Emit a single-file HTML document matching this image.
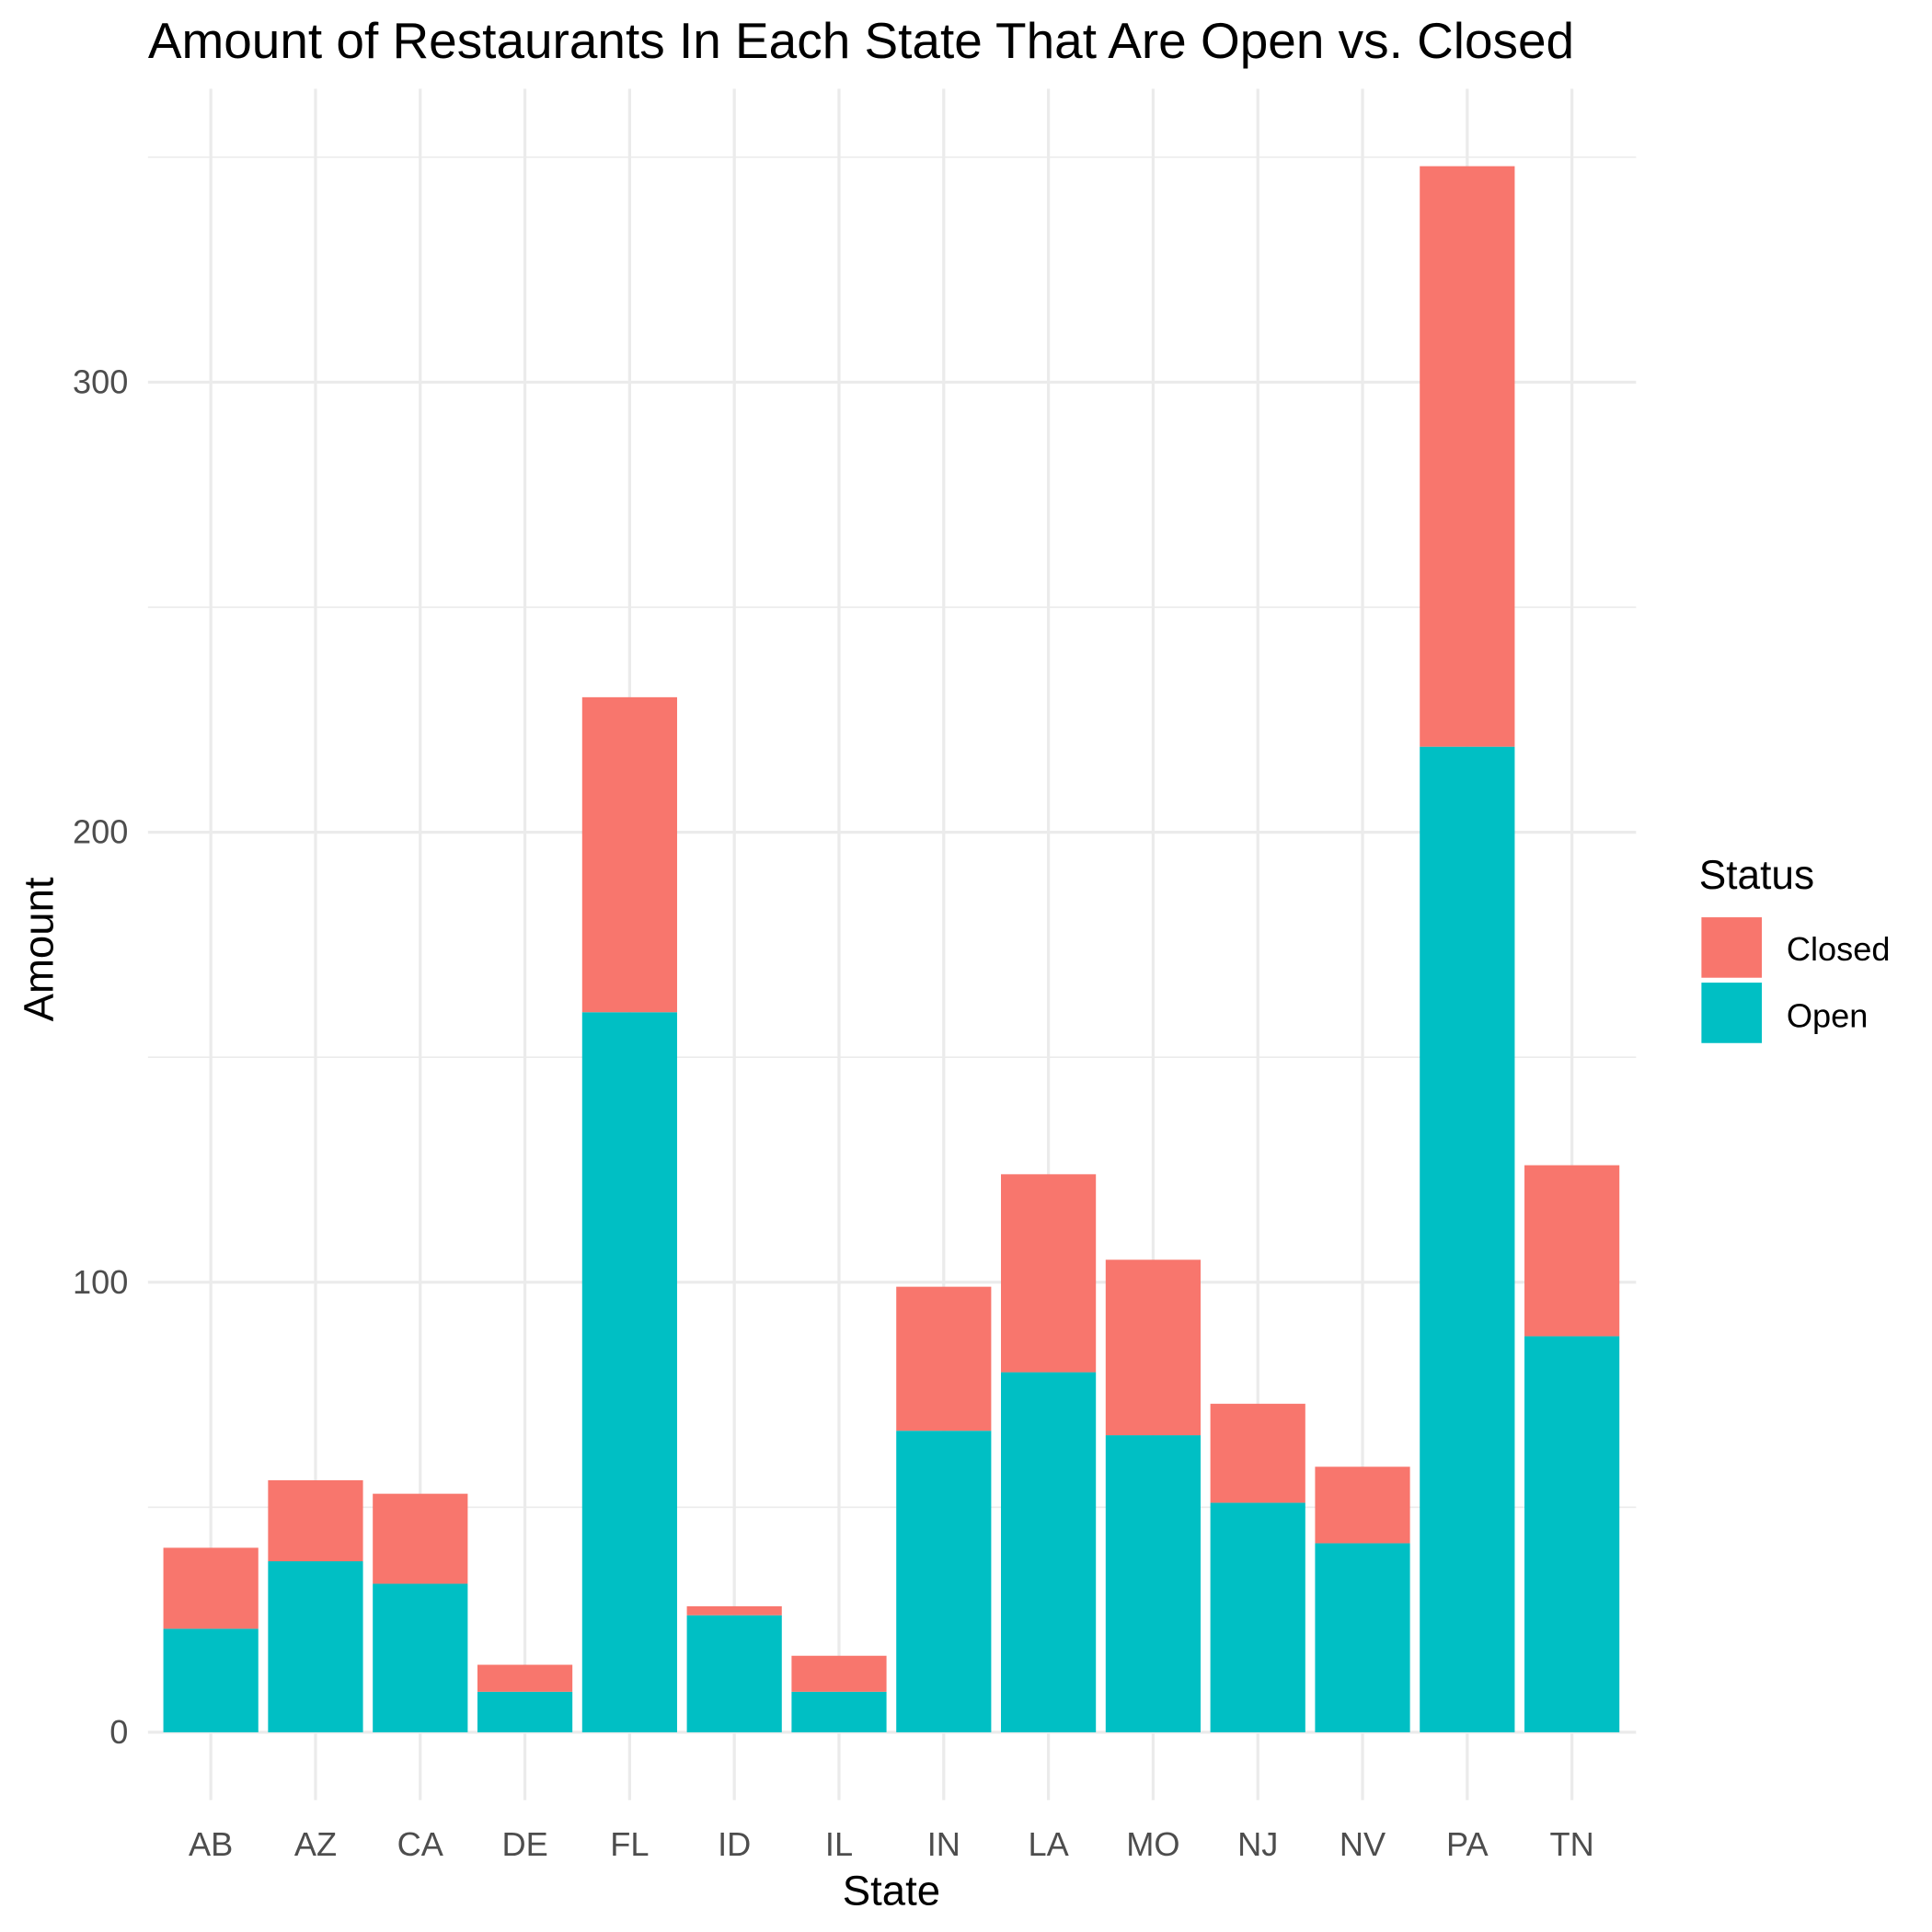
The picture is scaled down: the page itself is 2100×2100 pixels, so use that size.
<!DOCTYPE html>
<html><head><meta charset="utf-8"><style>
html,body{margin:0;padding:0;background:#fff}
svg{display:block;font-family:"Liberation Sans",Arial,sans-serif}
</style></head><body>
<svg id="chart" width="2100" height="2100" viewBox="0 0 1567 1567" xmlns="http://www.w3.org/2000/svg">
<text x="120" y="47" font-size="41" fill="#000">Amount of Restaurants In Each State That Are Open vs. Closed</text>
<g id="grid"></g>
<g id="bars"></g>
<g id="ticks"></g>
<text x="723" y="1545" font-size="34" text-anchor="middle" fill="#000">State</text>
<text transform="translate(43,770) rotate(-90)" font-size="34" text-anchor="middle" fill="#000">Amount</text>
<g>
<text x="1378" y="721" font-size="33" fill="#000">Status</text>
<rect x="1380" y="744" width="49" height="49" fill="#F8766D"/>
<text x="1449" y="779" font-size="27" fill="#000">Closed</text>
<rect x="1380" y="797" width="49" height="49" fill="#00BFC4"/>
<text x="1449" y="833" font-size="27" fill="#000">Open</text>
</g>
</svg>
<script>
const states = ["AB","AZ","CA","DE","FL","ID","IL","IN","LA","MO","NJ","NV","PA","TN"];
const openVals = [23,38,33,9,160,26,9,67,80,66,51,42,219,88];
const closedVals = [18,18,20,6,70,2,8,32,44,39,22,17,129,38];
const yTicks = [0,100,200,300];
const yMinor = [50,150,250,350];

const NS="http://www.w3.org/2000/svg";
const x0=171, step=84.92, bw=77;
const xPos=i=>x0+i*step;
const yPos=v=>1405-v*3.65;
const panelL=120, panelR=1327, panelT=72, panelB=1460;
function mk(tag,attrs,parent){const e=document.createElementNS(NS,tag);for(const k in attrs)e.setAttribute(k,attrs[k]);parent.appendChild(e);return e;}
const grid=document.getElementById('grid'), bars=document.getElementById('bars'), ticks=document.getElementById('ticks');
yMinor.forEach(v=>{const l=mk('line',{x1:panelL,x2:panelR,y1:yPos(v),y2:yPos(v),stroke:'#ebebeb','stroke-width':1.2},grid);

});
yTicks.forEach(v=>{const l=mk('line',{x1:panelL,x2:panelR,y1:yPos(v),y2:yPos(v),stroke:'#ebebeb','stroke-width':2.4},grid);


const t=mk('text',{x:104,y:yPos(v)+9,'font-size':27,'text-anchor':'end',fill:'#4d4d4d'},ticks);t.textContent=v;

});
states.forEach((s,i)=>{const x=xPos(i);
const l=mk('line',{x1:x,x2:x,y1:panelT,y2:panelB,stroke:'#ebebeb','stroke-width':2.4},grid);


const o=openVals[i], c=closedVals[i];
const ro=mk('rect',{x:x-bw/2,y:yPos(o),width:bw,height:yPos(0)-yPos(o),fill:'#00BFC4'},bars);


const rc=mk('rect',{x:x-bw/2,y:yPos(o+c),width:bw,height:yPos(o)-yPos(o+c),fill:'#F8766D'},bars);


const t=mk('text',{x:x,y:1505,'font-size':27,'text-anchor':'middle',fill:'#4d4d4d'},ticks);t.textContent=s;

});
</script>
</body></html>
